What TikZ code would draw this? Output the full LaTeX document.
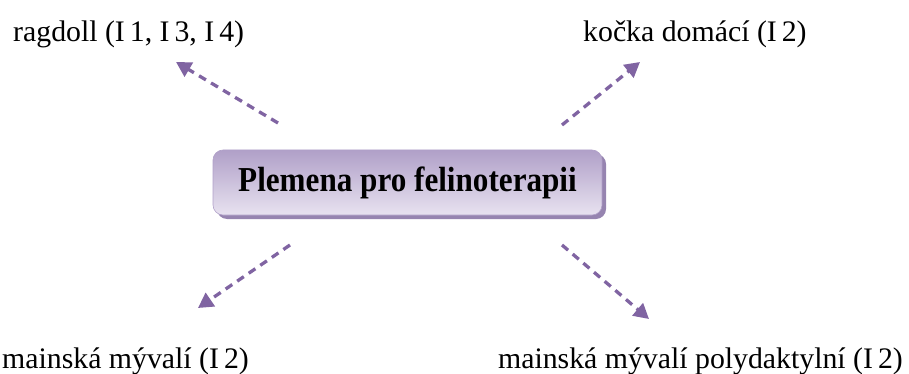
\documentclass[tikz,border=0pt]{standalone}
\usepackage{fontspec}
\setmainfont{Liberation Serif}
\usetikzlibrary{arrows.meta,shadows}
\definecolor{arrowpurple}{RGB}{128,100,162}
\definecolor{boxtop}{RGB}{176,160,200}
\definecolor{boxbottom}{RGB}{232,226,240}
\definecolor{boxshadow}{RGB}{150,132,176}
\tikzset{
  lbl/.style={inner sep=0pt, font=\fontsize{29.8}{34}\selectfont},
  conn/.style={draw=arrowpurple, line width=3.3pt, dash pattern=on 8pt off 6pt,
    -{Triangle[length=15pt,width=16pt]}},
  mainbox/.style={rounded corners=10pt, minimum width=389pt, minimum height=65pt,
    inner sep=0pt, top color=boxtop, bottom color=boxbottom, draw=boxtop, line width=0.6pt,
    font=\bfseries\fontsize{35}{40}\selectfont}
}
\begin{document}
\begin{tikzpicture}[x=1pt,y=-1pt]
\useasboundingbox (0,0) rectangle (909,374);
% shadow
\fill[boxshadow, rounded corners=10pt] (217,154) rectangle (606,219);
\node[mainbox] (center) at (407.5,182.5) {\scalebox{0.89}[1]{Plemena pro felinoterapii}};
\node[lbl, anchor=base west] (tl) at (13,42) {ragdoll (I\,1, I\,3, I\,4)};
\node[lbl, anchor=base west] (tr) at (583,42) {kočka domácí (I\,2)};
\node[lbl, anchor=base west] (bl) at (2,368) {mainská mývalí (I\,2)};
\node[lbl, anchor=base east] (br) at (903,368) {mainská mývalí polydaktylní (I\,2)};
\coordinate (s1) at (278,123); \coordinate (t1) at (176,62);
\coordinate (s2) at (562,125); \coordinate (t2) at (640,62);
\coordinate (s3) at (290,245); \coordinate (t3) at (198,308);
\coordinate (s4) at (562,245); \coordinate (t4) at (649,319);
\draw[conn] (s1) -- (t1);
\draw[conn] (s2) -- (t2);
\draw[conn] (s3) -- (t3);
\draw[conn] (s4) -- (t4);
\end{tikzpicture}
\end{document}
